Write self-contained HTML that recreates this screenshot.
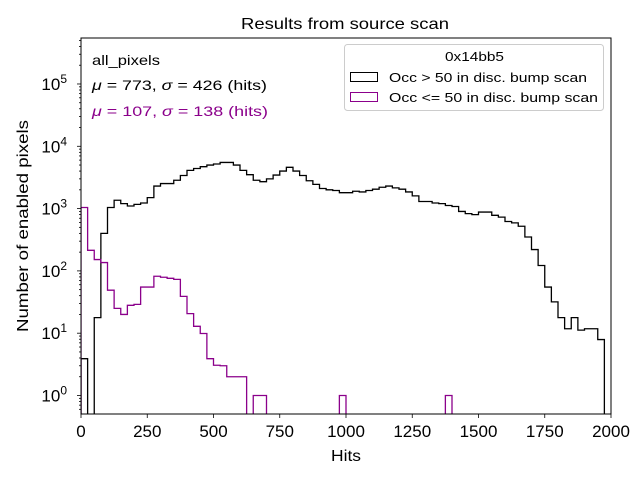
<!DOCTYPE html>
<html><head><meta charset="utf-8"><style>
html,body{margin:0;padding:0;background:#fff;}
svg{display:block;font-family:"Liberation Sans","DejaVu Sans",sans-serif;}
</style></head><body>
<svg id="chart" width="640" height="480" viewBox="0 0 640 480">
<text x="241" y="29" font-size="16" textLength="208" lengthAdjust="spacingAndGlyphs">Results from source scan</text>
<g id="marks"></g>
<rect x="81" y="38" width="530" height="376" fill="none" stroke="#000" stroke-width="1"/>
<g id="axes"></g>
<text x="331" y="461" font-size="16" textLength="30" lengthAdjust="spacingAndGlyphs">Hits</text>
<text x="28" y="226" font-size="16" text-anchor="middle" textLength="212" lengthAdjust="spacingAndGlyphs" transform="rotate(-90 28 226)">Number of enabled pixels</text>
<text x="92" y="65" font-size="14" textLength="68" lengthAdjust="spacingAndGlyphs">all_pixels</text>
<text x="92" y="90" font-size="14" textLength="175" lengthAdjust="spacingAndGlyphs"><tspan font-style="italic">μ</tspan> = 773, <tspan font-style="italic">σ</tspan> = 426 (hits)</text>
<text x="92" y="116" font-size="14" fill="#8b008b" textLength="176" lengthAdjust="spacingAndGlyphs"><tspan font-style="italic">μ</tspan> = 107, <tspan font-style="italic">σ</tspan> = 138 (hits)</text>
<g>
<rect x="344.5" y="44.5" width="259" height="66" rx="3" fill="#fff" fill-opacity="0.8" stroke="#ccc"/>
<text x="445" y="61" font-size="13" textLength="59" lengthAdjust="spacingAndGlyphs">0x14bb5</text>
<rect x="350.5" y="72.5" width="27" height="9" fill="none" stroke="#000"/>
<text x="389" y="82" font-size="13" textLength="198" lengthAdjust="spacingAndGlyphs">Occ &gt; 50 in disc. bump scan</text>
<rect x="350.5" y="92.5" width="27" height="9" fill="none" stroke="#8b008b"/>
<text x="389" y="102" font-size="13" textLength="209" lengthAdjust="spacingAndGlyphs">Occ &lt;= 50 in disc. bump scan</text>
</g>
</svg>
<script>
const binWidth = 25;
const blackCounts = [3.9,0,17.8,400,1040,1360,1200,1100,1170,1230,1500,2300,2520,2520,2850,3400,4100,4400,4700,5000,5200,5500,5500,5000,4100,3500,2850,2700,3000,3450,4000,4600,4000,3400,2800,2450,2100,2000,1950,1800,1800,1900,1850,1950,2050,2200,2300,2150,2050,1850,1600,1300,1300,1230,1200,1120,1080,900,830,800,880,880,780,730,620,590,520,350,220,122,55,31.8,17.8,11.8,17.8,11.2,11.8,11.8,7.9,0];
const purpleCounts = [1040,214,152,136,49,25,20,28,29,55,55,82,79,76,73,39,20.6,12.9,9.9,3.9,3.06,3,2,2,2,0,1,1,0,0,0,0,0,0,0,0,0,0,0,1,0,0,0,0,0,0,0,0,0,0,0,0,0,0,0,1,0,0,0,0,0,0,0,0,0,0,0,0,0,0,0,0,0,0,0,0,0,0,0,0];
const xTicks = [0,250,500,750,1000,1250,1500,1750,2000];
const yDecades = [0,1,2,3,4,5];
const X0=81,X1=611,Y0=38,Y1=414,xMax=2000,lMin=-0.297,lMax=5.738;
const NS='http://www.w3.org/2000/svg';
const xs=v=>X0+(v/xMax)*(X1-X0);
const ys=c=>{if(c<=0)return Y1+5;return Y1-(Math.log10(c)-lMin)/(lMax-lMin)*(Y1-Y0);};
function stepPath(arr){
  let d='M'+xs(0)+','+(Y1+5);
  arr.forEach((c,i)=>{const y=ys(c);d+=' L'+xs(i*binWidth)+','+y+' L'+xs((i+1)*binWidth)+','+y;});
  d+=' L'+xs(arr.length*binWidth)+','+(Y1+5);
  return d;
}
const marks=document.getElementById('marks');
const clip=document.createElementNS(NS,'clipPath');clip.setAttribute('id','pc');
const cr=document.createElementNS(NS,'rect');cr.setAttribute('x',X0);cr.setAttribute('y',Y0);cr.setAttribute('width',X1-X0);cr.setAttribute('height',Y1-Y0);
clip.appendChild(cr);marks.appendChild(clip);
[[blackCounts,'#000','black-histogram'],[purpleCounts,'#8b008b','purple-histogram']].forEach(([arr,col,name])=>{
  const p=document.createElementNS(NS,'path');
  p.setAttribute('d',stepPath(arr));p.setAttribute('fill','none');p.setAttribute('stroke',col);p.setAttribute('stroke-width','1.3');p.setAttribute('clip-path','url(#pc)');
  
  
  marks.appendChild(p);
});
const axes=document.getElementById('axes');
function line(x1,y1,x2,y2){const l=document.createElementNS(NS,'line');l.setAttribute('x1',x1);l.setAttribute('y1',y1);l.setAttribute('x2',x2);l.setAttribute('y2',y2);l.setAttribute('stroke','#000');l.setAttribute('stroke-width','0.8');axes.appendChild(l);return l;}
xTicks.forEach(v=>{
  const x=xs(v);const l=line(x,Y1,x,Y1+4);
  
  
  const t=document.createElementNS(NS,'text');t.setAttribute('x',x);t.setAttribute('y',Y1+23);t.setAttribute('font-size','17');t.setAttribute('text-anchor','middle');t.textContent=v;
  
  
  axes.appendChild(t);
});
for(let d=-1;d<=5;d++){for(let m=1;m<10;m++){const lv=d+Math.log10(m);if(lv<lMin||lv>lMax)continue;const y=ys(Math.pow(10,lv));const l=line(X0-(m===1?4:2),y,X0,y);
  
  }}
yDecades.forEach(d=>{
  const y=ys(Math.pow(10,d));
  const t=document.createElementNS(NS,'text');t.setAttribute('x',X0-14);t.setAttribute('y',y+6);t.setAttribute('font-size','17');t.setAttribute('text-anchor','end');
  t.innerHTML='10<tspan font-size="12" dy="-7">'+d+'</tspan>';
  
  
  axes.appendChild(t);
});
</script>
</body></html>
